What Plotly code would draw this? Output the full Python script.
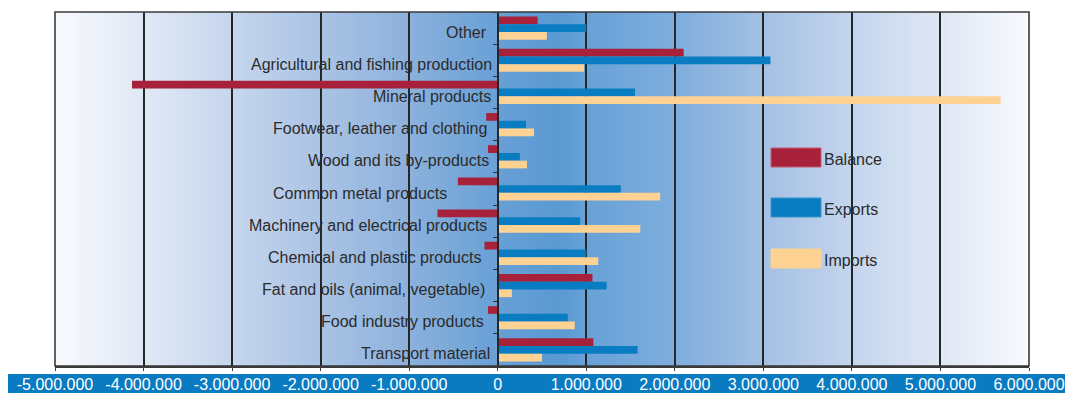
import plotly.graph_objects as go

# ---------------- data ----------------
categories = [
    "Other",
    "Agricultural and fishing production",
    "Mineral products",
    "Footwear, leather and clothing",
    "Wood and its by-products",
    "Common metal products",
    "Machinery and electrical products",
    "Chemical and plastic products",
    "Fat and oils (animal, vegetable)",
    "Food industry products",
    "Transport material",
]
balance = [450000, 2100000, -4130000, -130000, -110000, -450000, -680000, -150000, 1070000, -110000, 1080000]
exports = [1000000, 3080000, 1550000, 320000, 250000, 1390000, 930000, 1000000, 1230000, 790000, 1580000]
imports = [555000, 975000, 5680000, 410000, 330000, 1835000, 1610000, 1135000, 160000, 870000, 500000]
series_names = ["Balance", "Exports", "Imports"]
tick_values = [-5000000, -4000000, -3000000, -2000000, -1000000, 0, 1000000, 2000000, 3000000, 4000000, 5000000, 6000000]
tick_labels = ["-5.000.000", "-4.000.000", "-3.000.000", "-2.000.000", "-1.000.000", "0",
               "1.000.000", "2.000.000", "3.000.000", "4.000.000", "5.000.000", "6.000.000"]

# ---------------- style ----------------
colors = ["#a8213b", "#0a7cc2", "#fdd293"]
FONT = "Liberation Sans, Arial, Helvetica, sans-serif"
TXT = "#2b2b2b"
FS = 16
label_xshift = [-9, -4, -5, -9, -7, -49, -9, -15, -11, -12, -6]

XMIN, XMAX = tick_values[0], tick_values[-1]

fig = go.Figure()
for name, vals, col in zip(series_names, [balance, exports, imports], colors):
    fig.add_trace(go.Bar(
        y=categories, x=vals, name=name, orientation="h",
        marker=dict(color=col, line=dict(width=0)),
        showlegend=False, hoverinfo="x+name",
    ))

# background gradient (style)
stops = [
    (-5.0, (248, 250, 253)), (-4.0, (224, 232, 245)), (-3.0, (198, 214, 237)),
    (-2.0, (170, 195, 229)), (-1.0, (140, 177, 220)), (0.0, (104, 160, 214)),
    (0.7, (90, 153, 210)), (1.0, (104, 162, 215)), (2.0, (126, 173, 221)),
    (3.0, (164, 192, 227)), (4.0, (196, 213, 237)), (5.0, (222, 231, 244)),
    (6.0, (249, 251, 254)),
]

def grad_color(v):
    for (a, ca), (b, cb) in zip(stops[:-1], stops[1:]):
        if a <= v <= b:
            t = (v - a) / (b - a)
            c = [round(ca[i] + (cb[i] - ca[i]) * t) for i in range(3)]
            return "rgb(%d,%d,%d)" % tuple(c)
    return "rgb(248,250,253)"

shapes = []
n_strips = 220
step = (XMAX - XMIN) / n_strips
for i in range(n_strips):
    x0 = XMIN + i * step
    x1 = x0 + step
    mid = (x0 + x1) / 2 / 1e6
    shapes.append(dict(type="rect", xref="x", yref="paper", x0=x0, x1=min(x1 + step * 0.3, XMAX), y0=0, y1=1,
                       fillcolor=grad_color(mid), line=dict(width=0), layer="below"))

# geometry (page has an 8px body margin)
W, H = 1065, 385
ML, MR, MT, MB = 47, 44, 4, 27
PW, PH = W - ML - MR, H - MT - MB

def px(xpage):
    return (xpage - 8 - ML) / PW

def py(ypage):
    return 1 - (ypage - 8 - MT) / PH

# blue band behind x tick labels
shapes.append(dict(type="rect", xref="paper", yref="paper", x0=px(4), x1=px(1080), y0=py(400), y1=py(374),
                   fillcolor="#0a7bc1", line=dict(width=0), layer="below"))
# plot border
shapes.append(dict(type="rect", xref="paper", yref="paper", x0=0, x1=1, y0=0, y1=1,
                   fillcolor="rgba(0,0,0,0)", line=dict(color="#3a3a3a", width=1.6), layer="above"))

# manual legend
leg_y = [(148, 167), (198, 217), (249, 268)]
leg_border = ["#c65a72", "#3a92cc", "#fdd293"]
annotations = []
for name, col, bc, (ya, yb) in zip(series_names, colors, leg_border, leg_y):
    shapes.append(dict(type="rect", xref="paper", yref="paper", x0=px(771), x1=px(821), y0=py(yb), y1=py(ya),
                       fillcolor=col, line=dict(color=bc, width=1), layer="above"))
    annotations.append(dict(xref="paper", yref="paper", x=px(822), y=py((ya + yb) / 2 + 1.5),
                            text=name, showarrow=False, xanchor="left", yanchor="middle",
                            font=dict(family=FONT, size=FS, color=TXT)))

# category labels near the zero line
for cat, dx in zip(categories, label_xshift):
    annotations.append(dict(xref="x", yref="y", x=0, y=cat, text=cat, showarrow=False,
                            xanchor="right", yanchor="middle", xshift=dx, yshift=-4,
                            font=dict(family=FONT, size=FS, color=TXT)))

fig.update_layout(
    width=W, height=H,
    margin=dict(l=ML, r=MR, t=MT, b=MB, autoexpand=False),
    paper_bgcolor="white", plot_bgcolor="rgba(0,0,0,0)",
    barmode="group", bargap=0.28, bargroupgap=0,
    shapes=shapes, annotations=annotations,
    font=dict(family=FONT, size=FS, color=TXT),
    xaxis=dict(
        range=[XMIN, XMAX], tickvals=tick_values, ticktext=tick_labels,
        showgrid=True, gridcolor="#262626", gridwidth=1.8,
        zeroline=False, showline=True, linecolor="#3a3a3a", linewidth=1.6,
        ticks="outside", ticklen=3, tickcolor="#3a3a3a", ticklabelstandoff=0,
        tickfont=dict(family=FONT, size=FS, color="white"),
        automargin=False, fixedrange=True,
    ),
    yaxis=dict(
        autorange=False, range=[len(categories) - 0.5, -0.5],
        anchor="free", position=5 / 11, side="left",
        showline=True, linecolor="#262626", linewidth=2,
        ticks="outside", ticklen=4, tickcolor="#333", tickson="boundaries",
        showticklabels=False, showgrid=False, zeroline=False,
        automargin=False, fixedrange=True,
    ),
)

fig.write_html("out.html")
